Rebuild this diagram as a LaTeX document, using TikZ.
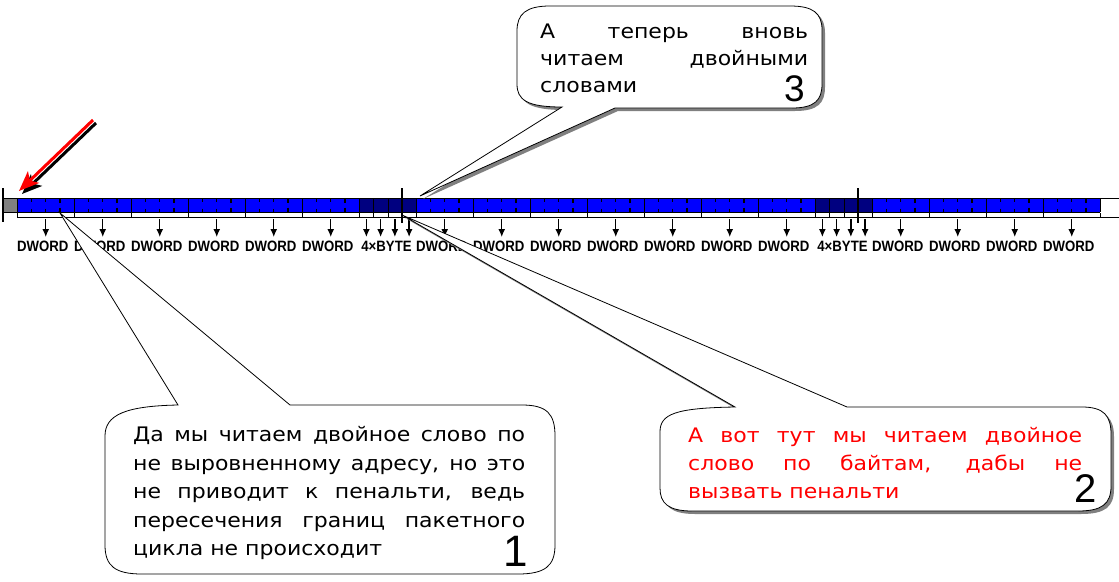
\documentclass[tikz,border=0pt]{standalone}
\usepackage{fontspec}
\usetikzlibrary{arrows.meta,calc}
\newfontfamily\cgfont[FakeStretch=1.1]{DejaVu Sans}
\newfontfamily\lbfont{Liberation Sans}
\newfontfamily\lbnarrow[FakeStretch=0.88]{Liberation Sans}
\definecolor{memblue}{RGB}{0,0,255}
\definecolor{memdark}{RGB}{0,0,128}
\definecolor{midgray}{RGB}{128,128,128}
\definecolor{txtred}{RGB}{255,0,0}
\tikzset{
  lbl/.style={font=\lbnarrow\bfseries\fontsize{15}{15}\selectfont, inner sep=0pt, anchor=center},
  dnarrow/.style={line width=1.3pt, -{Latex[length=8pt,width=7pt]}},
  ctext/.style={font=\cgfont\fontsize{20}{20}\selectfont, inner sep=0pt, anchor=base west},
  cnum/.style={font=\lbfont, inner sep=0pt, anchor=base east},
  callout/.style={draw=black, line width=0.8pt, fill=white},
  cshadow/.style={fill=midgray},
  marker/.style={line width=2.4pt},
  bytetick/.style={line width=1.2pt},
}
\newcommand\pathA{(178,405) -- (60,213) -- (290,405) -- (522,405) .. controls (547,405) and (555,414) .. (555,436) -- (555,545) .. controls (555,566) and (545,574) .. (518,574) -- (142,574) .. controls (115,574) and (105,566) .. (105,545) -- (105,436) .. controls (105,415) and (125,406) .. (178,405) -- cycle}
\newcommand\pathB{(735,407) -- (402,215) -- (847,407) -- (1082,407) .. controls (1104,407) and (1111,416) .. (1111,434) -- (1111,486) .. controls (1111,504) and (1102,511) .. (1078,511) -- (692,511) .. controls (668,511) and (660,503) .. (660,488) -- (660,432) .. controls (660,414) and (675,408) .. (735,407) -- cycle}
\newcommand\pathC{(562,107) -- (420,196) -- (615,108) -- (792,108) .. controls (815,108) and (822,100) .. (822,84) -- (822,30) .. controls (822,13) and (813,6) .. (790,6) -- (550,6) .. controls (526,6) and (517,14) .. (517,31) -- (517,84) .. controls (517,100) and (527,107) .. (562,107) -- cycle}
\begin{document}
\begin{tikzpicture}[x=1pt,y=-1pt]
\useasboundingbox (0,0) rectangle (1119,581);
\clip (0,0) rectangle (1119,581);
\fill[white] (0,0) rectangle (1119,581);

% gray offset byte
\fill[midgray] (3,198) rectangle (17.25,212);

% DWORDs
\foreach \s in {1,5,9,13,17,21,29,33,37,41,45,49,53,61,65,69,73} {
  \fill[memblue] ({3+\s*14.25},198) rectangle ({3+(\s+4)*14.25},212);
  \draw ({3+\s*14.25},198) -- ({3+\s*14.25},212);
  \draw ({3+\s*14.25},213) -- ({3+\s*14.25},217);
  \foreach \k in {1,2} {
    \draw[bytetick] ({3+(\s+\k)*14.25},198) -- ({3+(\s+\k)*14.25},201.5);
    \draw[bytetick] ({3+(\s+\k)*14.25},208.5) -- ({3+(\s+\k)*14.25},212);
  }
  \draw[bytetick] ({3+(\s+3)*14.25},198) -- ({3+(\s+3)*14.25},202.5);
  \draw[bytetick] ({3+(\s+3)*14.25},207.5) -- ({3+(\s+3)*14.25},212);
  \coordinate (a\s) at ({3+(\s+2)*14.25},219);
  \node[lbl] (dw\s) at ({3+(\s+2)*14.25-3},246) {DWORD};
  \draw[dnarrow] (a\s) -- ++(0,18);
}

% byte groups
\foreach \s in {25,26,27,28,57,58,59,60} {
  \fill[memdark] ({3+\s*14.25},198) rectangle ({3+(\s+1)*14.25},212);
  \draw ({3+\s*14.25},198) -- ({3+\s*14.25},212);
  \draw ({3+\s*14.25},213) -- ({3+\s*14.25},217);
  \coordinate (b\s) at ({3+(\s+0.5)*14.25},219);
  \draw[dnarrow] (b\s) -- ++(0,18);
}
\node[lbl] (by1) at (386.5,246) {4×BYTE};
\node[lbl] (by2) at (842.5,246) {4×BYTE};

% outlines
\draw (3,198) -- (1125,198);
\draw (3,212) -- (1100.25,212);
\draw (17.25,217) -- (1125,217);
\draw (17.25,198) -- (17.25,212);
\draw (1100.25,198) -- (1100.25,212);
\draw (1100.25,213) -- (1100.25,217);

% boundary markers
\draw[marker] (3,188) -- (3,222);
\draw[marker] (402,188) -- (402,223);
\draw[marker] (858,188) -- (858,223);

% callout 3 (top)
\fill[cshadow, shift={(3,3)}] \pathC;
\draw[callout] \pathC;
\node[ctext] (c3a) at (540,38) {\makebox[268pt][s]{А теперь вновь}};
\node[ctext] (c3b) at (540,65) {\makebox[268pt][s]{читаем двойными}};
\node[ctext] (c3c) at (540,92) {словами};
\node[cnum, font=\lbfont\fontsize{37}{37}\selectfont] (n3) at (805,101) {3};

% callout 1
\draw[callout] \pathA;
\node[ctext] (c1a) at (133,441) {\makebox[392pt][s]{Да мы читаем двойное слово по}};
\node[ctext] (c1b) at (133,470) {\makebox[392pt][s]{не выровненному адресу, но это}};
\node[ctext] (c1c) at (133,498) {\makebox[392pt][s]{не приводит к пенальти, ведь}};
\node[ctext] (c1d) at (133,527) {\makebox[392pt][s]{пересечения границ пакетного}};
\node[ctext] (c1e) at (133,555) {цикла не происходит};
\node[cnum, font=\lbfont\fontsize{44}{44}\selectfont] (n1) at (528,566) {1};

% callout 2
\fill[cshadow, shift={(3,3)}] \pathB;
\draw[callout] \pathB;
\node[ctext, text=txtred] (c2a) at (688,442) {\makebox[394pt][s]{А вот тут мы читаем двойное}};
\node[ctext, text=txtred] (c2b) at (688,470) {\makebox[394pt][s]{слово по байтам, дабы не}};
\node[ctext, text=txtred] (c2c) at (688,498) {вызвать пенальти};
\node[cnum, font=\lbfont\fontsize{40}{40}\selectfont] (n2) at (1097,502) {2};

% red pointer arrow with shadow
\coordinate (rtail) at (93,120);
\coordinate (rtip) at (19,191);
\draw[line width=3pt, black, -{Stealth[length=20pt,width=16pt,inset=5pt]}] ($(rtail)+(3,3)$) -- ($(rtip)+(3,3)$);
\draw[line width=3pt, red, -{Stealth[length=20pt,width=16pt,inset=5pt]}] (rtail) -- (rtip);
\end{tikzpicture}
\end{document}
